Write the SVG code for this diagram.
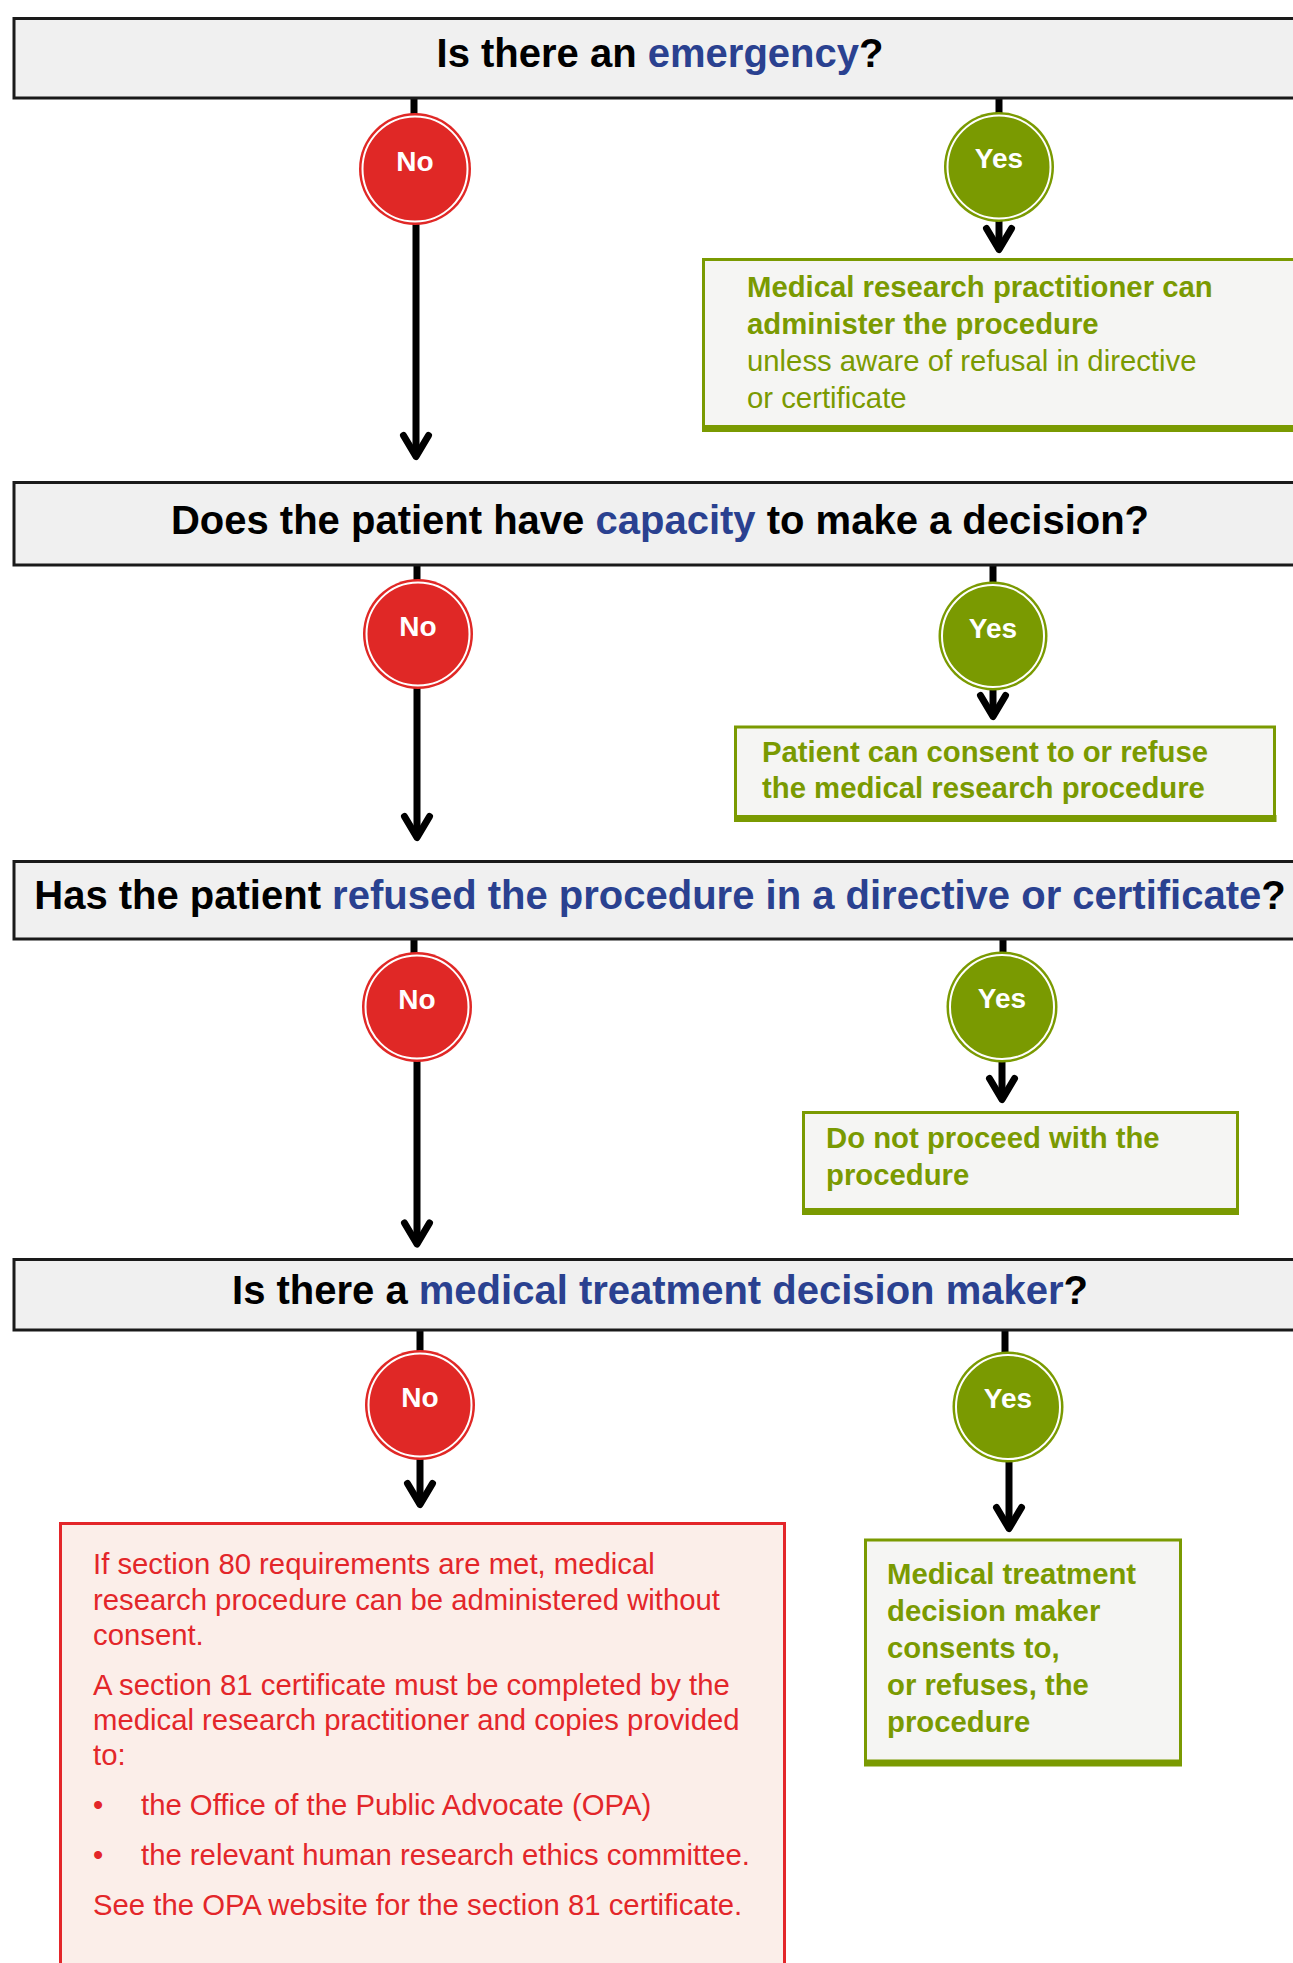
<svg xmlns="http://www.w3.org/2000/svg" width="1293" height="1963" viewBox="0 0 1293 1963">
  <defs>
    <marker id="chev" markerUnits="userSpaceOnUse" viewBox="-30 -20 40 40" markerWidth="40" markerHeight="40" refX="0" refY="0" orient="auto" overflow="visible">
      <path d="M-21,-12.5 L0,0 L-21,12.5" fill="none" stroke="#000" stroke-width="7" stroke-linecap="round" stroke-linejoin="round"/>
    </marker>
    <style>
      text { font-family: "Liberation Sans", Arial, sans-serif; }
      .q { fill: #f0f0f0; stroke: #1a1a1a; stroke-width: 3; }
      .qt { font-size: 40px; font-weight: bold; fill: #000; text-anchor: middle; }
      .kw { fill: #2a4190; }
      .conn { stroke: #000; stroke-width: 7; fill: none; }
      .arr { marker-end: url(#chev); }
      .no { fill: #e02826; }
      .yes { fill: #7a9a01; }
      .ring { fill: none; stroke: #fff; stroke-width: 2; }
      .cl { font-size: 28px; font-weight: bold; fill: #fff; text-anchor: middle; }
      .gbox { fill: #f5f5f3; stroke: #7a9a01; stroke-width: 3; }
      .gbar { stroke: #7a9a01; stroke-width: 7; }
      .gt { font-size: 29.3px; fill: #7a9a01; }
      .b { font-weight: bold; }
      .rbox { fill: #fbeee9; stroke: #e3262a; stroke-width: 3; }
      .rt { font-size: 29.3px; fill: #e3262a; }
    </style>
  </defs>

  <g id="connectors">
    <path class="conn" d="M414,98 V169"/>
    <path class="conn arr" d="M416,169 V456.5"/>
    <path class="conn" d="M999,98 V167"/>
    <path class="conn arr" d="M999,167 V249.5"/>
    <path class="conn" d="M417,565 V634"/>
    <path class="conn arr" d="M417,634 V837.5"/>
    <path class="conn" d="M993,565 V636"/>
    <path class="conn arr" d="M993,636 V716.5"/>
    <path class="conn" d="M414,939 V1007"/>
    <path class="conn arr" d="M417,1007 V1244"/>
    <path class="conn" d="M1003,939 V1007"/>
    <path class="conn arr" d="M1002,1007 V1099.5"/>
    <path class="conn" d="M420,1330 V1405"/>
    <path class="conn arr" d="M420,1405 V1504.5"/>
    <path class="conn" d="M1005,1330 V1407"/>
    <path class="conn arr" d="M1009,1407 V1528.5"/>
  </g>

  <g id="q1">
    <rect class="q" x="14" y="18.5" width="1300" height="79.5"/>
    <text class="qt" x="660" y="67">Is there an <tspan class="kw">emergency</tspan>?</text>
  </g>
  <g id="no1">
    <circle class="no" cx="415" cy="169" r="56"/>
    <circle class="ring" cx="415" cy="169" r="52.5"/>
    <text class="cl" x="415" y="171">No</text>
  </g>
  <g id="yes1">
    <circle class="yes" cx="999" cy="167" r="55"/>
    <circle class="ring" cx="999" cy="167" r="51.5"/>
    <text class="cl" x="999" y="168">Yes</text>
  </g>
  <g id="boxA">
    <rect class="gbox" x="703.5" y="259.5" width="650" height="169"/>
    <line class="gbar" x1="702" y1="428.5" x2="1300" y2="428.5"/>
    <text class="gt b" x="747" y="297">Medical research practitioner can</text>
    <text class="gt b" x="747" y="334">administer the procedure</text>
    <text class="gt" x="747" y="371">unless aware of refusal in directive</text>
    <text class="gt" x="747" y="408">or certificate</text>
  </g>

  <g id="q2">
    <rect class="q" x="14" y="482.5" width="1300" height="82.5"/>
    <text class="qt" x="660" y="534">Does the patient have <tspan class="kw">capacity</tspan> to make a decision?</text>
  </g>
  <g id="no2">
    <circle class="no" cx="418" cy="634" r="55"/>
    <circle class="ring" cx="418" cy="634" r="51.5"/>
    <text class="cl" x="418" y="636">No</text>
  </g>
  <g id="yes2">
    <circle class="yes" cx="993" cy="636" r="54.5"/>
    <circle class="ring" cx="993" cy="636" r="51"/>
    <text class="cl" x="993" y="638">Yes</text>
  </g>
  <g id="boxB">
    <rect class="gbox" x="735.5" y="727" width="539" height="91.5"/>
    <line class="gbar" x1="734" y1="818.5" x2="1276.5" y2="818.5"/>
    <text class="gt b" x="762" y="762">Patient can consent to or refuse</text>
    <text class="gt b" x="762" y="798">the medical research procedure</text>
  </g>

  <g id="q3">
    <rect class="q" x="14" y="861.5" width="1300" height="77.5"/>
    <text class="qt" x="660" y="909">Has the patient <tspan class="kw">refused the procedure in a directive or certificate</tspan>?</text>
  </g>
  <g id="no3">
    <circle class="no" cx="417" cy="1007" r="55"/>
    <circle class="ring" cx="417" cy="1007" r="51.5"/>
    <text class="cl" x="417" y="1009">No</text>
  </g>
  <g id="yes3">
    <circle class="yes" cx="1002" cy="1007" r="55.5"/>
    <circle class="ring" cx="1002" cy="1007" r="52"/>
    <text class="cl" x="1002" y="1008">Yes</text>
  </g>
  <g id="boxC">
    <rect class="gbox" x="803.5" y="1112.5" width="434" height="99"/>
    <line class="gbar" x1="802" y1="1211.5" x2="1239" y2="1211.5"/>
    <text class="gt b" x="826" y="1148">Do not proceed with the</text>
    <text class="gt b" x="826" y="1185">procedure</text>
  </g>

  <g id="q4">
    <rect class="q" x="14" y="1259.5" width="1300" height="70.5"/>
    <text class="qt" x="660" y="1304">Is there a <tspan class="kw">medical treatment decision maker</tspan>?</text>
  </g>
  <g id="no4">
    <circle class="no" cx="420" cy="1405" r="55"/>
    <circle class="ring" cx="420" cy="1405" r="51.5"/>
    <text class="cl" x="420" y="1407">No</text>
  </g>
  <g id="yes4">
    <circle class="yes" cx="1008" cy="1407" r="55.5"/>
    <circle class="ring" cx="1008" cy="1407" r="52"/>
    <text class="cl" x="1008" y="1408">Yes</text>
  </g>
  <g id="boxD">
    <rect class="gbox" x="865.5" y="1540" width="315" height="223"/>
    <line class="gbar" x1="864" y1="1763" x2="1182" y2="1763"/>
    <text class="gt b" x="887" y="1584">Medical treatment</text>
    <text class="gt b" x="887" y="1621">decision maker</text>
    <text class="gt b" x="887" y="1658">consents to,</text>
    <text class="gt b" x="887" y="1695">or refuses, the</text>
    <text class="gt b" x="887" y="1732">procedure</text>
  </g>

  <g id="redBox">
    <rect class="rbox" x="60.5" y="1523.5" width="724" height="460"/>
    <text class="rt" x="93" y="1574">If section 80 requirements are met, medical</text>
    <text class="rt" x="93" y="1610">research procedure can be administered without</text>
    <text class="rt" x="93" y="1645">consent.</text>
    <text class="rt" x="93" y="1695">A section 81 certificate must be completed by the</text>
    <text class="rt" x="93" y="1730">medical research practitioner and copies provided</text>
    <text class="rt" x="93" y="1765">to:</text>
    <text class="rt" x="93" y="1815">•</text>
    <text class="rt" x="141" y="1815">the Office of the Public Advocate (OPA)</text>
    <text class="rt" x="93" y="1865">•</text>
    <text class="rt" x="141" y="1865">the relevant human research ethics committee.</text>
    <text class="rt" x="93" y="1915">See the OPA website for the section 81 certificate.</text>
  </g>
</svg>
